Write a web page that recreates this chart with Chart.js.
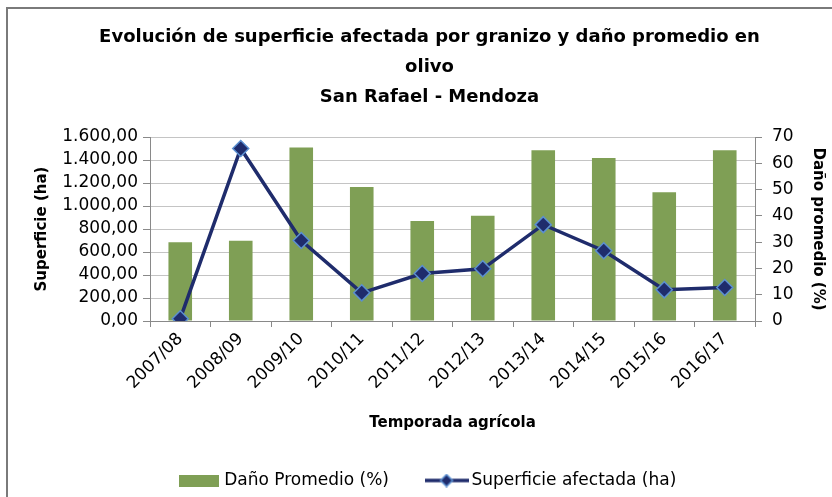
<!DOCTYPE html>
<html>
<head>
<meta charset="utf-8">
<script src="https://cdn.jsdelivr.net/npm/chart.js@4.4.1/dist/chart.umd.min.js"></script>
<style>
  html, body { margin: 0; padding: 0; background: #fff; }
  #wrap { width: 832px; height: 497px; }
</style>
</head>
<body>
<div id="wrap"><canvas id="chart" width="832" height="497"></canvas></div>
<script>
// data
var temporadas = ["2007/08", "2008/09", "2009/10", "2010/11", "2011/12", "2012/13", "2013/14", "2014/15", "2015/16", "2016/17"];
var danoPromedio = [30, 30.5, 66, 51, 38, 40, 65, 62, 49, 65];            // %
var superficieAfectada = [20, 1500, 700, 245, 413, 454, 838, 611, 271, 291]; // ha
var superficieTicks = [0, 200, 400, 600, 800, 1000, 1200, 1400, 1600];
var danoTicks = [0, 10, 20, 30, 40, 50, 60, 70];

var FONT = "'DejaVu Sans', sans-serif";
var BAR_COLOR = "#7f9f55";
var LINE_COLOR = "#1f2c6c";
var MARKER_EDGE = "#5b8fd0";
var AXIS_COLOR = "#898989";
var GRID_COLOR = "#c4c4c4";

function formatHa(v) {
    var parts = v.toFixed(2).split(".");
    var ent = parts[0].replace(/\B(?=(\d{3})+(?!\d))/g, ".");
    return ent + "," + parts[1];
}

// little pictures for the legend
function legendBox() {
    var c = document.createElement("canvas");
    c.width = 40; c.height = 12;
    var g = c.getContext("2d");
    g.fillStyle = BAR_COLOR;
    g.fillRect(0, 0, 40, 12);
    return c;
}
function legendLine() {
    var c = document.createElement("canvas");
    c.width = 44; c.height = 14;
    var g = c.getContext("2d");
    g.strokeStyle = LINE_COLOR;
    g.lineWidth = 3.5;
    g.beginPath(); g.moveTo(0, 7); g.lineTo(44, 7); g.stroke();
    g.fillStyle = LINE_COLOR;
    g.strokeStyle = MARKER_EDGE;
    g.lineWidth = 1.5;
    g.beginPath();
    g.moveTo(22, 1); g.lineTo(28, 7); g.lineTo(22, 13); g.lineTo(16, 7); g.closePath();
    g.fill(); g.stroke();
    return c;
}
var legendPics = [legendBox(), legendLine()];

var frame = {
    id: "frame",
    beforeDraw: function (chart) {
        var ctx = chart.ctx;
        ctx.save();
        ctx.fillStyle = "#fff";
        ctx.fillRect(0, 0, chart.width, chart.height);
        ctx.strokeStyle = "#7a7a7a";
        ctx.lineWidth = 2;
        ctx.beginPath();
        ctx.moveTo(7, chart.height);
        ctx.lineTo(7, 8);
        ctx.lineTo(chart.width, 8);
        ctx.stroke();
        ctx.restore();
    }
};

Chart.defaults.font.family = FONT;
Chart.defaults.color = "#111";

new Chart(document.getElementById("chart"), {
    type: "bar",
    data: {
        labels: temporadas,
        datasets: [{
            label: "Daño Promedio (%)",
            data: danoPromedio,
            yAxisID: "yDano",
            backgroundColor: BAR_COLOR,
            categoryPercentage: 1,
            barPercentage: 0.39,
            order: 2
        }, {
            type: "line",
            label: "Superficie afectada (ha)",
            data: superficieAfectada,
            yAxisID: "ySup",
            borderColor: LINE_COLOR,
            borderWidth: 3.5,
            backgroundColor: LINE_COLOR,
            pointStyle: "rectRot",
            pointRadius: 8,
            pointBorderWidth: 1.5,
            pointBackgroundColor: LINE_COLOR,
            pointBorderColor: MARKER_EDGE,
            tension: 0,
            order: 1
        }]
    },
    options: {
        responsive: false,
        animation: false,
        devicePixelRatio: 1,
        layout: { padding: { left: 30, right: 3, top: 0, bottom: -2 } },
        plugins: {
            tooltip: { enabled: false },
            title: {
                display: true,
                text: ["Evolución de superficie afectada por granizo y daño promedio en", "olivo", "San Rafael - Mendoza"],
                color: "#000",
                font: { size: 18, weight: "bold", lineHeight: 1.667 },
                padding: { top: 22, bottom: 25 }
            },
            legend: {
                position: "bottom",
                labels: {
                    usePointStyle: true,
                    pointStyleWidth: 33,
                    color: "#000",
                    font: { size: 17 },
                    padding: 41,
                    sort: function (a, b) { return a.datasetIndex - b.datasetIndex; },
                    generateLabels: function (chart) {
                        var items = Chart.defaults.plugins.legend.labels.generateLabels(chart);
                        items.forEach(function (it) { it.pointStyle = legendPics[it.datasetIndex]; });
                        return items;
                    }
                }
            }
        },
        scales: {
            x: {
                grid: { offset: true, drawOnChartArea: false, tickLength: 6, tickColor: AXIS_COLOR },
                border: { color: AXIS_COLOR },
                ticks: { minRotation: 45, maxRotation: 45, autoSkip: false, padding: 2, color: "#000", font: { size: 17 } },
                title: { display: true, text: "Temporada agrícola", color: "#000", font: { size: 15, weight: "bold" }, padding: { top: 0, bottom: -1 } },
                afterFit: function (s) { s.height = 110; }
            },
            ySup: {
                position: "left",
                min: 0, max: 1600,
                afterBuildTicks: function (s) { s.ticks = superficieTicks.map(function (v) { return { value: v }; }); },
                grid: { color: GRID_COLOR, tickColor: AXIS_COLOR, tickLength: 7 },
                border: { color: AXIS_COLOR },
                ticks: { autoSkip: false, padding: 5, color: "#000", font: { size: 17 }, callback: function (v) { return formatHa(v); } },
                title: { display: true, text: "Superficie (ha)", color: "#000", font: { size: 15, weight: "bold" }, padding: { top: 3, bottom: 0 } },
                afterFit: function (s) { s.width = 120; }
            },
            yDano: {
                position: "right",
                min: 0, max: 70,
                afterBuildTicks: function (s) { s.ticks = danoTicks.map(function (v) { return { value: v }; }); },
                grid: { drawOnChartArea: false, tickColor: AXIS_COLOR, tickLength: 7 },
                border: { color: AXIS_COLOR },
                ticks: { autoSkip: false, padding: 10, color: "#000", font: { size: 17 } },
                title: { display: true, text: "Daño promedio (%)", color: "#000", font: { size: 15, weight: "bold" }, padding: { top: 2, bottom: 0 } },
                afterFit: function (s) { s.width = 74; }
            }
        }
    },
    plugins: [frame]
});
</script>
</body>
</html>
